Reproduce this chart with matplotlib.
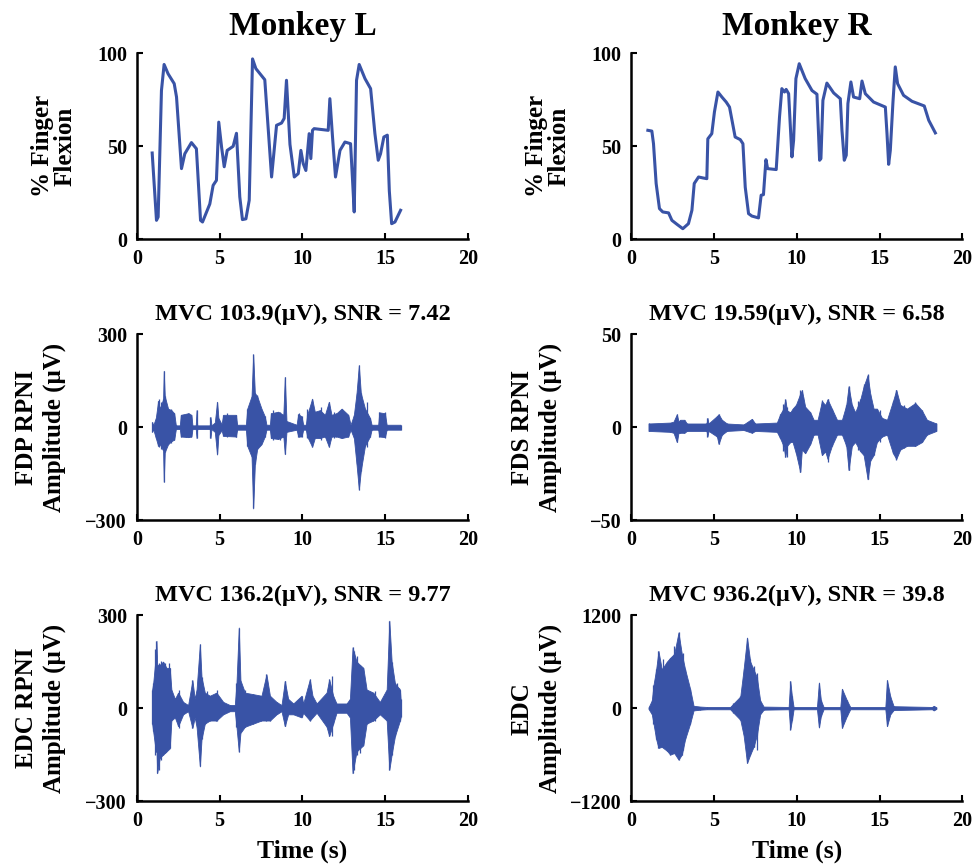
import numpy as np
import matplotlib
matplotlib.use('Agg')
import matplotlib.pyplot as plt

plt.rcParams['font.family'] = ['Liberation Serif', 'DejaVu Serif']
plt.rcParams['font.weight'] = 'bold'
plt.rcParams['axes.labelweight'] = 'bold'
plt.rcParams['axes.titleweight'] = 'bold'

BLUE = '#3953a6'

# finger flexion traces (time s, % flexion)
flex_L_t = [0.93, 1.19, 1.29, 1.49, 1.65, 1.89, 2.26, 2.40, 2.70, 2.90, 3.30, 3.60, 3.85, 3.97,
            4.41, 4.61, 4.81, 4.95, 5.12, 5.28, 5.46, 5.82, 6.02, 6.22, 6.38, 6.59, 6.79, 6.99,
            7.19, 7.73, 8.14, 8.44, 8.74, 8.90, 9.04, 9.25, 9.51, 9.75, 9.91, 10.05, 10.21,
            10.41, 10.51, 10.61, 10.71, 11.56, 11.66, 11.82, 12.00, 12.27, 12.57, 12.91, 13.03,
            13.13, 13.27, 13.43, 13.78, 14.12, 14.38, 14.58, 14.72, 14.92, 15.13, 15.25, 15.39,
            15.59, 15.93]
flex_L_v = [46.4, 10.2, 12, 80, 94, 89, 83.7, 76.5, 38, 46, 52, 48.7, 10.2, 9.3,
            19, 29, 31.7, 63, 49.6, 39, 47.8, 50, 57, 22.8, 10.6, 11, 21, 97,
            91.8, 85.8, 33.5, 61.3, 62.5, 65, 85.5, 51, 33.5, 35.3, 47.8, 40.7, 37,
            56.8, 43.4, 58.6, 59.5, 58.6, 75.6, 55, 33.5, 47.8, 52.3, 51.4, 31.7,
            14.7, 85.5, 94, 86.4, 81, 56.8, 42.5, 46, 55, 56, 26, 8.4,
            9.3, 15.6]

flex_R_t = [1.01, 1.25, 1.35, 1.51, 1.71, 1.91, 2.26, 2.46, 2.76, 3.12, 3.46, 3.67, 3.81, 4.07,
            4.33, 4.57, 4.63, 4.87, 5.03, 5.24, 5.48, 5.74, 5.94, 6.28, 6.59, 6.75, 6.89, 7.09,
            7.29, 7.69, 7.85, 7.99, 8.14, 8.24, 8.76, 8.96, 9.10, 9.26, 9.36, 9.51, 9.71, 9.81,
            9.95, 10.15, 10.51, 10.92, 11.22, 11.38, 11.46, 11.58, 11.82, 12.23, 12.63, 12.73,
            12.87, 12.99, 13.09, 13.27, 13.43, 13.80, 13.94, 14.14, 14.64, 15.35, 15.45, 15.55,
            15.65, 15.81, 15.95, 16.09, 16.45, 16.96, 17.70, 17.97, 18.37]
flex_R_v = [58.6, 58.2, 51.4, 30, 16.5, 14.7, 14.2, 10.2, 8.1, 5.7, 8.4, 15.6, 30, 33.5,
            33, 32.6, 54, 56.8, 68.5, 79.2, 76.5, 73.8, 71.1, 55, 53.6, 51.4, 28, 13.8,
            12.5, 11.5, 23.7, 24, 42.8, 38, 37.5, 65.8, 81, 79.2, 80.6, 78.3, 44.3, 53.2,
            86.4, 94.4, 86.4, 80, 78, 42.5, 43.4, 74.7, 84, 78.7, 75.6, 58.6,
            42.5, 45.2, 73, 84.6, 76.5, 75.6, 85.1, 78.3, 73.8, 71.1, 56.8, 40.3,
            47.8, 73.8, 92.7, 83.7, 77.4, 74.2, 71.7, 64, 57.2]

# EMG envelopes: time (s), upper and lower extent (uV)
fdp_t = [0.93, 0.99, 1.15, 1.29, 1.39, 1.59, 1.63, 1.69, 1.89, 2.09, 2.26, 2.36, 2.60, 2.66,
         3.10, 3.30, 3.36, 3.56, 3.61, 3.65, 4.41, 4.45, 4.51, 4.71, 4.85, 4.93, 5.12, 5.22,
         5.98, 6.06, 6.59, 6.67, 6.93, 7.03, 7.13, 7.27, 7.53, 7.73, 7.83, 8.04, 8.10, 8.54,
         8.85, 8.94, 9.04, 9.65, 9.75, 9.95, 10.05, 10.21, 10.29, 10.59, 10.75, 11.06, 11.36,
         11.60, 11.76, 12.06, 12.37, 12.77, 12.91, 13.11, 13.27, 13.41, 13.53, 13.78, 14.08,
         14.18, 14.58, 14.64, 14.98, 15.09, 15.93]
fdp_hi = [17, 6, 30, 85, 60, 90, 182, 100, 60, 55, 45, 6, 6, 40,
          45, 40, 6, 6, 55, 6, 6, 33, 6, 15, 82, 30, 10, 40,
          40, 8, 8, 60, 100, 235, 110, 100, 60, 35, 8, 8, 45, 50,
          40, 162, 20, 8, 42, 35, 8, 8, 40, 92, 50, 55, 40,
          82, 40, 45, 60, 40, 8, 40, 110, 200, 110, 60, 30,
          8, 8, 48, 45, 8, 8]
fdp_lo = [-15, -6, -35, -60, -55, -75, -176, -80, -55, -45, -40, -6, -6, -30,
          -32, -30, -6, -6, -35, -6, -6, -35, -6, -15, -88, -25, -10, -28,
          -30, -8, -8, -60, -95, -262, -120, -70, -55, -30, -8, -8, -35, -38,
          -30, -87, -15, -8, -30, -30, -8, -8, -30, -63, -35, -35, -30,
          -63, -30, -30, -35, -30, -8, -35, -120, -201, -140, -60, -30,
          -8, -8, -30, -32, -8, -8]
# single spikes standing out of the bursts: time, up, down
fdp_sp_t = [1.33, 1.49, 2.05, 3.00, 3.16, 5.42, 5.98, 7.23, 8.24, 8.64, 9.81, 10.25, 11.12, 11.90, 13.92, 14.98]
fdp_sp_up = [92, 82, 60, 44, 45, 45, 40, 103, 55, 50, 45, 60, 65, 50, 80, 50]
fdp_sp_dn = [-63, -70, -50, -30, -32, -30, -32, -70, -40, -40, -32, -35, -40, -35, -65, -35]

fds_t = [1.05, 2.36, 2.56, 2.76, 2.86, 2.96, 3.22, 3.36, 4.55, 4.61, 4.67, 5.18, 5.28, 5.48,
         5.78, 6.79, 7.29, 7.49, 8.80, 9.00, 9.20, 9.31, 9.41, 9.61, 9.75, 9.95, 10.21, 10.31,
         10.51, 10.82, 11.02, 11.26, 11.52, 11.72, 11.86, 12.12, 12.43, 12.73, 12.99, 13.13,
         13.33, 13.53, 13.84, 14.04, 14.28, 14.44, 14.64, 14.84, 15.15, 15.45, 15.81, 16.01,
         16.25, 16.66, 17.16, 17.56, 17.86, 18.43]
fds_hi = [2, 2.5, 3, 7, 3, 4, 4, 2, 2, 5, 2, 6, 7, 4,
          2, 1.5, 4.5, 2, 2.5, 7, 10, 15, 9, 8, 10, 12, 18, 20,
          11, 8, 4, 4, 14, 12, 15, 10, 4, 4, 12, 22,
          12, 8, 15, 22, 28, 18, 10, 10, 5, 4, 14, 20,
          12, 10, 13, 9, 4, 2]
fds_lo = [-2, -2.5, -3, -8, -3, -3, -3, -2, -2, -5, -2, -5, -9, -4,
          -2, -1.5, -3, -2, -2.5, -6, -10, -16, -10, -8, -8, -14, -24, -12,
          -14, -9, -4, -4, -15, -13, -17, -10, -4, -4, -10, -23,
          -10, -8, -13, -15, -28, -18, -15, -8, -5, -4, -14, -17,
          -12, -10, -10, -8, -4, -2]
fds_sp_t = [9.20, 9.40, 10.21, 10.40, 11.52, 11.86, 13.13, 13.70, 14.04, 14.28, 15.00, 16.01, 16.50, 17.16]
fds_sp_up = [12.7, 11, 20, 16, 14.5, 15, 21.7, 14, 23.5, 28.5, 9, 20, 12, 13.6]
fds_sp_dn = [-13, -16, -24, -12, -14, -18.6, -23, -12, -15, -27.6, -8, -17.7, -11, -10]

edcL_t = [0.93, 0.99, 1.15, 1.19, 1.23, 1.39, 1.59, 1.79, 1.99, 2.09, 2.30, 2.50, 2.80, 3.10,
          3.36, 3.50, 3.61, 3.81, 3.91, 4.11, 4.41, 4.81, 5.22, 5.62, 5.92, 6.02, 6.16, 6.26,
          6.53, 7.03, 7.53, 7.83, 8.04, 8.44, 8.74, 8.94, 9.14, 9.45, 9.95, 10.05, 10.45, 10.61,
          10.86, 11.46, 11.62, 11.86, 12.06, 12.67, 12.87, 13.03, 13.27, 13.47, 13.68, 13.88,
          14.28, 14.68, 15.09, 15.25, 15.39, 15.59, 15.89, 15.93]
edcL_hi = [60, 80, 170, 217, 140, 140, 150, 130, 130, 60, 30, 50, 20, 10,
           90, 30, 60, 206, 100, 50, 40, 50, 20, 10, 10, 80, 260, 90,
           50, 45, 40, 109, 40, 20, 10, 87, 30, 15, 40, 15, 93, 40,
           15, 50, 93, 40, 15, 15, 30, 196, 150, 140, 130, 60,
           50, 20, 60, 282, 150, 80, 60, 30]
edcL_lo = [-50, -75, -140, -130, -210, -160, -150, -140, -130, -40, -30, -58, -20, -10,
           -64, -30, -60, -188, -100, -50, -40, -40, -20, -10, -10, -60, -140, -80,
           -60, -50, -40, -40, -40, -20, -10, -58, -20, -20, -30, -15, -40, -30,
           -15, -60, -90, -50, -15, -15, -30, -210, -140, -130, -120, -50,
           -40, -20, -40, -199, -150, -90, -40, -30]
edcL_sp_t = [1.08, 1.35, 1.49, 1.69, 1.95, 2.56, 4.25, 4.86, 6.53, 8.94, 11.77, 13.11, 13.27, 13.47, 14.38, 15.69, 15.85]
edcL_sp_up = [190, 147, 152, 147, 147, 60, 55, 60, 60, 87, 104, 185, 169, 136, 55, 82, 66]
edcL_sp_dn = [-150, -200, -166, -145, -120, -64, -40, -40, -60, -58, -90, -200, -150, -145, -40, -48, -40]

edcR_t = [1.05, 1.25, 1.35, 1.51, 1.65, 1.85, 2.16, 2.36, 2.60, 2.86, 3.06, 3.26, 3.56, 3.77,
          4.17, 4.57, 5.98, 6.18, 6.59, 6.79, 7.00, 7.19, 7.39, 7.59, 7.79, 8.00, 9.51, 9.61,
          9.71, 9.81, 11.22, 11.34, 11.46, 11.62, 12.63, 12.73, 13.03, 13.23, 15.35, 15.45,
          15.65, 15.85, 18.17, 18.27, 18.43]
edcR_hi = [10, 100, 300, 500, 738, 500, 600, 650, 700, 976, 700, 500, 250, 30,
           20, 15, 15, 60, 150, 500, 910, 600, 500, 400, 100, 20, 15, 350,
           150, 15, 15, 330, 100, 15, 15, 250, 100, 15, 15, 362,
           150, 25, 15, 30, 10]
edcR_lo = [-10, -80, -200, -400, -514, -500, -550, -600, -580, -665, -600, -400, -200, -30,
           -20, -15, -15, -60, -150, -350, -708, -600, -500, -350, -80, -20, -15, -276,
           -150, -15, -15, -250, -100, -15, -15, -255, -100, -15, -15, -233,
           -80, -25, -15, -30, -10]
edcR_sp_t = [1.95, 2.26, 2.56, 3.16, 7.19, 7.39, 7.59]
edcR_sp_up = [630, 587, 803, 716, 630, 544, 450]
edcR_sp_dn = [-405, -520, -578, -535, -560, -500, -535]

fig = plt.figure(figsize=(9.77, 8.67), dpi=100)
lefts = [0.140, 0.646]
bottoms = [0.724, 0.400, 0.076]
w, h = 0.339, 0.2145
axes = [[fig.add_axes([l, b, w, h]) for l in lefts] for b in bottoms]


def style(ax, lim, ticks, labels):
    ax.set_xlim(0, 20)
    ax.set_ylim(*lim)
    ax.set_xticks([0, 5, 10, 15, 20])
    ax.set_yticks(ticks)
    ax.set_yticklabels(labels)
    for s in ['top', 'right']:
        ax.spines[s].set_visible(False)
    for s in ['left', 'bottom']:
        ax.spines[s].set_linewidth(1.8)
    ax.tick_params(direction='in', length=4, width=1.5, labelsize=14.5, pad=7)
    for lab in ax.get_xticklabels() + ax.get_yticklabels():
        lab.set_fontweight('bold')


# finger flexion
for ax, t, v in [(axes[0][0], flex_L_t, flex_L_v), (axes[0][1], flex_R_t, flex_R_v)]:
    ax.plot(t, v, color=BLUE, lw=2.2)
    style(ax, (0, 100), [0, 50, 100], ['0', '50', '100'])
    ax.set_ylabel('% Finger\nFlexion', fontsize=18, linespacing=1.0)
    ax.yaxis.set_label_coords(-0.182, 0.5)

axes[0][0].set_title('Monkey L', fontsize=24, pad=13)
axes[0][1].set_title('Monkey R', fontsize=24, pad=13)

emg = [
    (axes[1][0], fdp_t, fdp_hi, fdp_lo, fdp_sp_t, fdp_sp_up, fdp_sp_dn, 300,
     'FDP RPNI', 'MVC 103.9(μV), SNR = 7.42', -0.215),
    (axes[1][1], fds_t, fds_hi, fds_lo, fds_sp_t, fds_sp_up, fds_sp_dn, 50,
     'FDS RPNI', 'MVC 19.59(μV), SNR = 6.58', -0.21),
    (axes[2][0], edcL_t, edcL_hi, edcL_lo, edcL_sp_t, edcL_sp_up, edcL_sp_dn, 300,
     'EDC RPNI', 'MVC 136.2(μV), SNR = 9.77', -0.215),
    (axes[2][1], edcR_t, edcR_hi, edcR_lo, edcR_sp_t, edcR_sp_up, edcR_sp_dn, 1200,
     'EDC', 'MVC 936.2(μV), SNR = 39.8', -0.21),
]
for ax, t, hi, lo, st, su, sd, lim, name, title, lx in emg:
    ax.fill_between(t, lo, hi, color=BLUE, lw=0.6, edgecolor=BLUE)
    ax.vlines(t, lo, hi, color=BLUE, lw=0.9)
    ax.vlines(st, sd, su, color=BLUE, lw=0.9)
    style(ax, (-lim, lim), [-lim, 0, lim], ['\u2212%d' % lim, '0', '%d' % lim])
    ax.set_ylabel(name + '\nAmplitude (μV)', fontsize=18, linespacing=1.25)
    ax.yaxis.set_label_coords(lx, 0.5)
    ax.set_title(title, fontsize=17.5, pad=10)

for ax in axes[2]:
    ax.set_xlabel('Time (s)', fontsize=18.5, labelpad=6)

fig.savefig('out.png', dpi=100)
